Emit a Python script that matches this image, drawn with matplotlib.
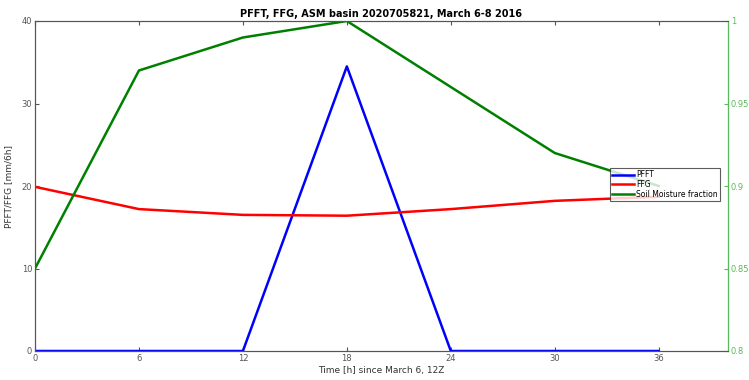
import matplotlib.pyplot as plt

hours = [0, 6, 12, 18, 24, 30, 36]
pfft = [0, 0, 0, 34.5, 0, 0, 0]
ffg = [19.9, 17.2, 16.5, 16.4, 17.2, 18.2, 18.7]
soil = [0.85, 0.97, 0.99, 1.0, 0.96, 0.92, 0.90]

fig = plt.figure(figsize=(7.49, 3.8), dpi=100)
ax = fig.add_axes([35 / 749, 29 / 380, 693 / 749, 330 / 380])
ax2 = ax.twinx()

l1, = ax.plot(hours, pfft, color='#0000ff', lw=1.8, label='PFFT')
l2, = ax.plot(hours, ffg, color='#ff0000', lw=1.8, label='FFG')
l3, = ax2.plot(hours, soil, color='#008000', lw=1.8, label='Soil Moisture fraction')

ax.set_xlim(0, 40)
ax.set_ylim(0, 40)
ax.set_xticks(hours)
ax.set_yticks([0, 10, 20, 30, 40])
ax2.set_ylim(0.8, 1.0)
ax2.set_yticks([0.8, 0.85, 0.9, 0.95, 1.0])
ax2.set_yticklabels(['0.8', '0.85', '0.9', '0.95', '1'])

grey = '#555555'
green = '#5cb85c'
for a in (ax, ax2):
    a.tick_params(labelsize=6, length=3, direction='in', top=False, pad=2)
    for s in a.spines.values():
        s.set_color(grey)
        s.set_linewidth(0.8)
ax.tick_params(colors=grey)
ax.xaxis.set_ticks_position('both')
ax2.spines['right'].set_color(green)
ax2.tick_params(axis='y', colors=green)

ax.set_xlabel('Time [h] since March 6, 12Z', fontsize=6.5, color='#333333', labelpad=2)
ax.set_ylabel('PFFT/FFG [mm/6h]', fontsize=6.5, color='#333333', labelpad=6)
ax.set_title('PFFT, FFG, ASM basin 2020705821, March 6-8 2016', fontsize=7,
             fontweight='bold', pad=3)

leg = ax2.legend(handles=[l1, l2, l3], loc='upper left',
                 bbox_to_anchor=(610 / 749, 1 - 168 / 380), bbox_transform=fig.transFigure,
                 fontsize=5.5, frameon=True, fancybox=False, borderpad=0.3,
                 labelspacing=0.1, handlelength=2.8, handletextpad=0.3, borderaxespad=0)
leg.get_frame().set_edgecolor('#333333')
leg.get_frame().set_linewidth(0.8)

fig.savefig('out.png', dpi=100)
